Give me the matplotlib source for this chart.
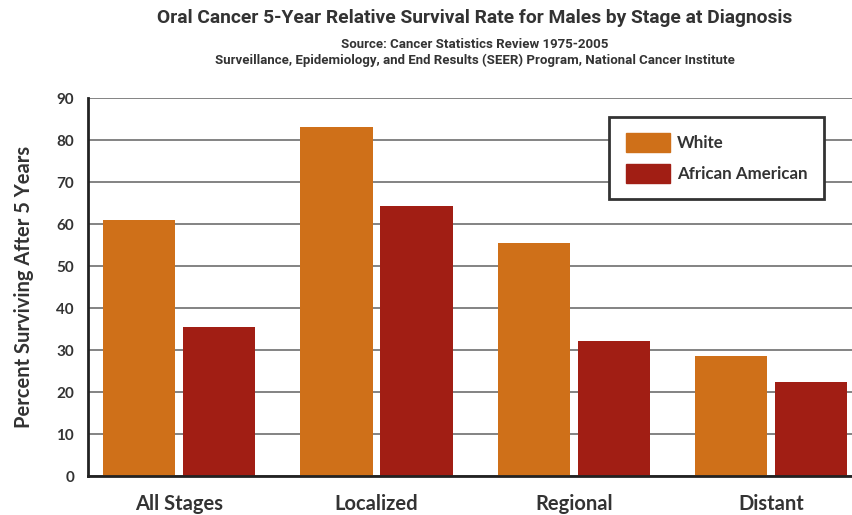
import numpy as np
import matplotlib.pyplot as plt
from matplotlib.patches import Patch

stages = ['All Stages', 'Localized', 'Regional', 'Distant']
white = [61.0, 83.1, 55.5, 28.6]
african_american = [35.5, 64.3, 32.1, 22.4]
yticks = np.arange(0, 91, 10)

c_white = '#CF7019'
c_aa = '#A11E14'
txt = '#333333'

plt.rcParams['font.family'] = ['Lato', 'DejaVu Sans']

fig = plt.figure(figsize=(8.53, 5.15), dpi=100)
ax = fig.add_axes([88 / 853, 39 / 515, 1 - 88 / 853, 378 / 515])

x = np.arange(len(stages))
w = 0.365
off = w / 2 + 0.02
ax.bar(x - off, white, w, color=c_white, zorder=3, label='White')
ax.bar(x + off, african_american, w, color=c_aa, zorder=3, label='African American')

ax.set_xlim(-0.461, 3.413)
ax.set_ylim(0, 90)
ax.set_yticks(yticks)
ax.set_yticklabels([str(v) for v in yticks], fontsize=11, fontweight='bold', color=txt)
ax.set_xticks(x)
ax.set_xticklabels(stages, fontsize=14.5, fontweight='bold', color=txt)
ax.tick_params(axis='both', length=0, pad=10)
ax.tick_params(axis='x', pad=13)

ax.grid(axis='y', color='#7a7a7a', linewidth=1.3, zorder=0)
for s in ['top', 'right']:
    ax.spines[s].set_visible(False)
for s in ['left', 'bottom']:
    ax.spines[s].set_linewidth(2)
    ax.spines[s].set_color('#222222')
    ax.spines[s].set_zorder(4)

ax.set_ylabel('Percent Surviving After 5 Years', fontsize=14.5, fontweight='bold',
              color=txt, labelpad=16)

handles = [Patch(color=c_white, label='White'),
           Patch(color=c_aa, label='African American')]
leg = ax.legend(handles=handles, loc='upper right', bbox_to_anchor=(0.962, 0.950),
                borderaxespad=0, fancybox=False, framealpha=1, edgecolor='#333333',
                prop={'family': 'Lato', 'weight': 'bold', 'size': 12.2},
                handlelength=2.6, handleheight=1.35, borderpad=0.95, labelspacing=0.7,
                handletextpad=0.45)
leg.get_frame().set_linewidth(2)
for t in leg.get_texts():
    t.set_color(txt)

title_font = ['Roboto', 'DejaVu Sans']
fig.text(0.557, 0.965, 'Oral Cancer 5-Year Relative Survival Rate for Males by Stage at Diagnosis',
         ha='center', va='center', fontsize=13.9, fontweight='bold', color=txt,
         family=title_font)
fig.text(0.557, 0.914, 'Source: Cancer Statistics Review 1975-2005',
         ha='center', va='center', fontsize=9.5, fontweight='bold', color=txt,
         family=title_font)
fig.text(0.557, 0.883, 'Surveillance, Epidemiology, and End Results (SEER) Program, National Cancer Institute',
         ha='center', va='center', fontsize=9.5, fontweight='bold', color=txt,
         family=title_font)

fig.savefig('out.png', dpi=100)
